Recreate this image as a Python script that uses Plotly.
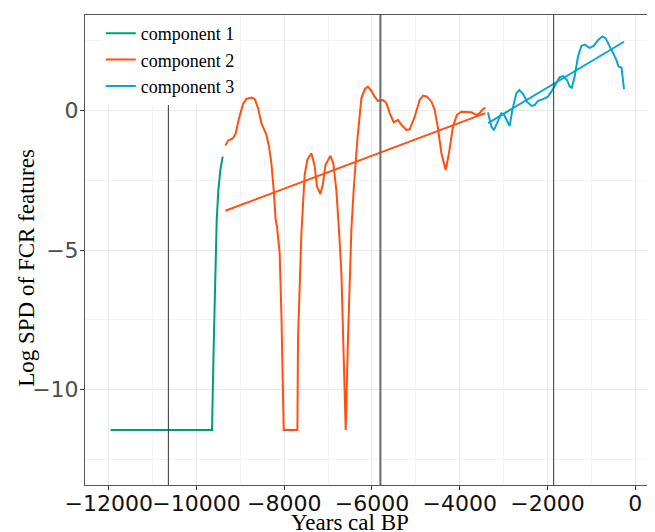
import plotly.graph_objects as go

# ---- data ----
comp1_x = [-11957, -9645, -9607, -9568, -9538, -9500, -9455, -9402]
comp1_y = [-11.46, -11.46, -8.46, -5.47, -3.92, -2.84, -2.13, -1.65]

comp2_x = [-9340, -9280, -9167, -9105, -9029, -8938, -8861, -8747, -8672, -8596,
           -8519, -8405, -8346, -8292, -8239, -8194, -8164, -8103, -8064, -8011,
           -7699, -7685, -7608, -7533, -7470, -7380, -7310, -7252, -7175, -7120,
           -7060, -6947, -6880, -6812, -6750, -6696, -6644, -6598, -6546, -6469,
           -6416, -6333, -6240, -6160, -6090, -6010, -5940, -5862, -5748, -5671,
           -5596, -5504, -5406, -5329, -5215, -5140, -5026, -4912, -4836, -4745,
           -4645, -4570, -4495, -4417, -4319, -4244, -4153, -4062, -3962, -3847,
           -3733, -3619, -3544, -3483, -3415]
comp2_y = [-1.25, -1.08, -0.99, -0.81, -0.27, 0.24, 0.42, 0.47, 0.42, 0.09,
           -0.45, -0.87, -1.29, -1.89, -2.84, -3.92, -4.16, -5.11, -7.26, -11.46,
           -11.46, -8.2, -4.4, -2.3, -1.75, -1.53, -1.95, -2.72, -2.99, -2.65,
           -1.95, -1.62, -1.9, -2.84, -4.3, -5.83, -8.82, -11.46, -8.22, -4.28,
           -2.84, -1.05, 0.45, 0.78, 0.86, 0.7, 0.5, 0.35, 0.38, 0.27,
           -0.09, -0.42, -0.33, -0.51, -0.69, -0.67, -0.22, 0.38, 0.54, 0.50,
           0.32, 0.03, -0.63, -1.53, -2.13, -1.53, -0.57, -0.15, -0.04, -0.06,
           -0.06, -0.15, -0.09, 0.03, 0.11]

comp3_x = [-3355, -3278, -3218, -3127, -3050, -2990, -2922, -2860, -2799, -2708,
           -2640, -2556, -2465, -2365, -2290, -2215, -2101, -1987, -1910, -1812,
           -1721, -1640, -1554, -1493, -1445, -1379, -1304, -1226, -1151, -1037,
           -946, -848, -748, -672, -597, -520, -429, -380, -310, -255]
comp3_y = [-0.07, -0.57, -0.70, -0.33, -0.09, -0.15, -0.39, -0.55, 0.03, 0.62,
           0.74, 0.60, 0.32, 0.17, 0.20, 0.35, 0.41, 0.50, 0.68, 0.98,
           1.20, 1.24, 1.10, 0.86, 0.82, 1.22, 1.94, 2.32, 2.37, 2.25,
           2.32, 2.53, 2.66, 2.59, 2.35, 2.06, 1.82, 1.58, 1.54, 0.77]

trend2_x = [-9340, -3415]
trend2_y = [-3.59, -0.09]
trend3_x = [-3355, -255]
trend3_y = [-0.45, 2.47]

breakpoints = [-10640, -5807, -1858]

names = ["component 1", "component 2", "component 3"]
colors = ["#009E73", "#FF5010", "#0AA5CE"]

x_ticks = [-12000, -10000, -8000, -6000, -4000, -2000, 0]
x_ticklabels = ["−12000", "−10000", "−8000", "−6000", "−4000", "−2000", "0"]
y_ticks = [-10, -5, 0]
y_ticklabels = ["−10", "−5", "0"]

fig = go.Figure()

for i, bx in enumerate(breakpoints):
    fig.add_vline(x=bx, line=dict(color="#6a6a6a" if i == 1 else "#333333",
                                  width=2 if i == 1 else 1), layer="above")

series = [(comp1_x, comp1_y), (comp2_x, comp2_y), (comp3_x, comp3_y)]
for (sx, sy), nm, col in zip(series, names, colors):
    fig.add_trace(go.Scatter(x=sx, y=sy, mode="lines", name=nm,
                             line=dict(color=col, width=2), showlegend=True))

fig.add_trace(go.Scatter(x=trend2_x, y=trend2_y, mode="lines", showlegend=False,
                         line=dict(color=colors[1], width=2)))
fig.add_trace(go.Scatter(x=trend3_x, y=trend3_y, mode="lines", showlegend=False,
                         line=dict(color=colors[2], width=2)))

axis_common = dict(showline=True, mirror=True, linecolor="#555555", linewidth=1,
                   ticks="outside", ticklen=4, tickcolor="#333333",
                   gridcolor="#ebebeb", gridwidth=1, zeroline=False, automargin=False,
                   tickangle=0)

fig.update_xaxes(range=[-12540, 315], tickvals=x_ticks, ticktext=x_ticklabels,
                 tickfont=dict(family="DejaVu Sans", size=22, color="#111111"),
                 ticklabelstandoff=-5,
                 minor=dict(dtick=1000, tick0=0, showgrid=True, gridcolor="#f3f3f3",
                            gridwidth=1, ticks=""),
                 **axis_common)
fig.update_yaxes(range=[-13.43, 3.43], tickvals=y_ticks, ticktext=y_ticklabels,
                 tickfont=dict(family="DejaVu Sans", size=22, color="#4d4d4d"),
                 ticklabelstandoff=-3,
                 minor=dict(dtick=2.5, tick0=0, showgrid=True, gridcolor="#f3f3f3",
                            gridwidth=1, ticks=""),
                 **axis_common)

# the page body adds an 8px offset, so the plot area is placed 8px up/left
fig.update_layout(
    width=655, height=532,
    margin=dict(l=77, r=14, t=7, b=55),
    plot_bgcolor="white", paper_bgcolor="white",
    legend=dict(x=0.028, y=1.0, xanchor="left", yanchor="top",
                bgcolor="white", borderwidth=0,
                font=dict(family="Liberation Serif", size=18, color="black"),
                tracegroupgap=0, itemwidth=30),
    annotations=[
        dict(text="Years cal BP", xref="paper", yref="paper", x=0.47, y=-0.08,
             xanchor="center", yanchor="middle", showarrow=False,
             font=dict(family="Liberation Serif", size=23, color="black")),
        dict(text="Log SPD of FCR features", xref="paper", yref="paper",
             x=-0.103, y=0.462, xanchor="center", yanchor="middle", textangle=-90,
             showarrow=False,
             font=dict(family="Liberation Serif", size=23, color="black")),
    ],
)

fig.write_html("out.html")
